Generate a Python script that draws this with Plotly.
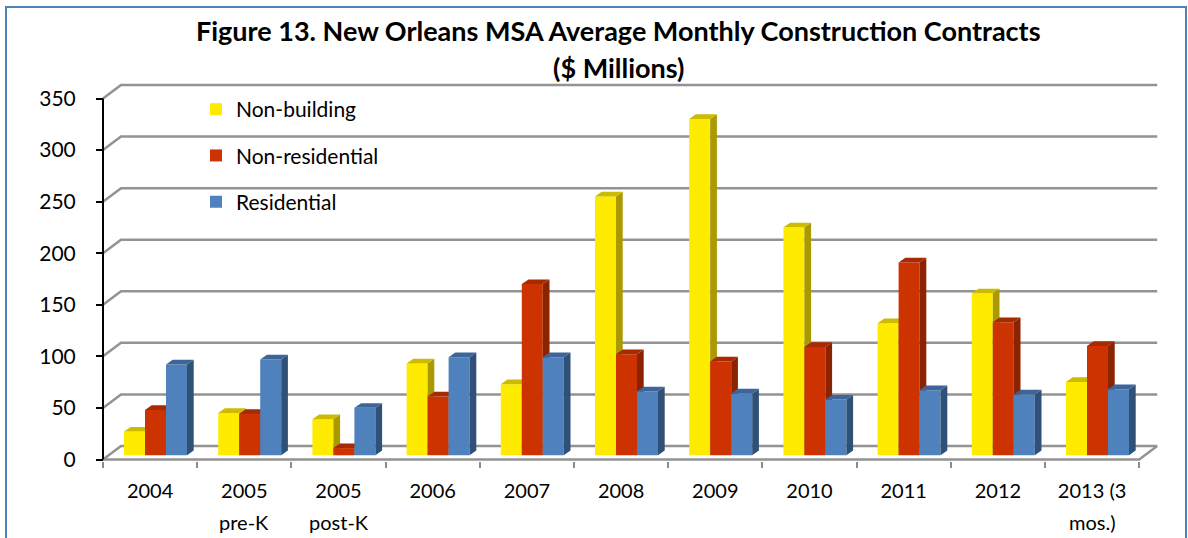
import plotly.graph_objects as go

# ---------------- data ----------------
categories = ["2004", "2005", "2005", "2006", "2007", "2008", "2009", "2010", "2011", "2012", "2013 (3"]
categories_line2 = ["", "pre-K", "post-K", "", "", "", "", "", "", "", "mos.)"]
non_building = [23, 41, 35, 89, 69, 251, 326, 221, 128, 157, 71]
non_residential = [44, 40, 7, 57, 166, 98, 91, 105, 187, 129, 106]
residential = [88, 93, 46, 95, 95, 62, 60, 54, 63, 59, 64]
y_ticks = [0, 50, 100, 150, 200, 250, 300, 350]
series_names = ["Non-building", "Non-residential", "Residential"]
title_line1 = "Figure 13. New Orleans MSA Average Monthly Construction Contracts"
title_line2 = "($ Millions)"

front_colors = ["#FFEB00", "#CC3300", "#4F81BD"]
top_colors = ["#CCBB00", "#A82A00", "#3E659A"]
side_colors = ["#AA9900", "#8B2200", "#2F5178"]

# ---------------- geometry (pixels) ----------------
W, H = 1188, 538
X0 = 103.0          # front-left corner of floor (px)
CW = 94.2           # category width (px)
Y0 = 459.5          # front zero line (px)
K = 361.0 / 350.0   # px per value unit
ML, MR, MT, MB = 95, 26, 80, 77
plot_w = W - ML - MR
plot_h = H - MT - MB
xmin = -0.5 - (X0 - ML) / CW
xmax = xmin + plot_w / CW
ymin = -((H - MB) - Y0) / K
ymax = ymin + plot_h / K


def paper_x(px):
    return (px - ML) / plot_w


def paper_y(py):
    return ((H - MB) - py) / plot_h


WDX, WDY = 18 / CW, 13.5 / K      # back-wall depth offset
BW = 21 / CW                      # bar width
SHIFT = 5.4 / CW                  # bar front-plane x offset
BASE = 4.2 / K                    # bar front-plane y offset
DDX, DDY = 6.7 / CW, 4.7 / K      # bar depth

n = len(categories)
left, right = -0.5, n - 0.5

fig = go.Figure()

# ---- back wall gridlines + floor (base subplot) ----
gx, gy = [], []
for v in y_ticks:
    gx += [left, left + WDX, right + WDX, None]
    gy += [v, v + WDY, v + WDY, None]
gx += [left, right, right + WDX, None]
gy += [0, 0, WDY, None]
fig.add_trace(go.Scatter(x=gx, y=gy, mode="lines", line=dict(color="#939393", width=2.5),
                         hoverinfo="skip", showlegend=False, xaxis="x", yaxis="y"))
fig.add_trace(go.Scatter(x=[left, left], y=[0, y_ticks[-1]], mode="lines",
                         line=dict(color="black", width=2), hoverinfo="skip",
                         showlegend=False, xaxis="x", yaxis="y"))

# ---- bars with 3D faces, one overlaid subplot per series ----
all_series = [non_building, non_residential, residential]
for k, vals in enumerate(all_series):
    ax = str(k + 2)
    xs = [i + SHIFT + (k - 1) * BW for i in range(n)]
    fig.add_trace(go.Bar(x=xs, y=vals, base=BASE, width=BW, name=series_names[k],
                         marker=dict(color=front_colors[k], line=dict(width=0)),
                         legendgroup=series_names[k], xaxis="x" + ax, yaxis="y" + ax))
    tx, ty, sx, sy = [], [], [], []
    for xc, v in zip(xs, vals):
        xl, xr = xc - BW / 2, xc + BW / 2
        t = BASE + v
        tx += [xl, xr, xr + DDX, xl + DDX, xl, None]
        ty += [t, t, t + DDY, t + DDY, t, None]
        sx += [xr, xr, xr + DDX, xr + DDX, xr, None]
        sy += [BASE, t, t + DDY, BASE + DDY, BASE, None]
    fig.add_trace(go.Scatter(x=sx, y=sy, mode="lines", fill="toself", fillcolor=side_colors[k],
                             line=dict(width=0, color=side_colors[k]), hoverinfo="skip",
                             showlegend=False, legendgroup=series_names[k],
                             xaxis="x" + ax, yaxis="y" + ax))
    fig.add_trace(go.Scatter(x=tx, y=ty, mode="lines", fill="toself", fillcolor=top_colors[k],
                             line=dict(width=0, color=top_colors[k]), hoverinfo="skip",
                             showlegend=False, legendgroup=series_names[k],
                             xaxis="x" + ax, yaxis="y" + ax))

font_family = "Lato"
layout = dict(
    width=W, height=H,
    margin=dict(l=ML, r=MR, t=MT, b=MB, pad=0),
    paper_bgcolor="white", plot_bgcolor="white",
    barmode="overlay",
    showlegend=True,
    legend=dict(x=paper_x(196), y=paper_y(89), xanchor="left", yanchor="top",
                font=dict(family=font_family, size=21, color="black"),
                bgcolor="rgba(0,0,0,0)", tracegroupgap=16, traceorder="grouped"),
    xaxis=dict(range=[xmin, xmax], tickmode="array", tickvals=list(range(n)), ticktext=categories,
               ticks="", showgrid=False, zeroline=False, showline=False,
               tickfont=dict(family=font_family, size=20, color="black"),
               ticklabelstandoff=16,
               minor=dict(tickmode="array", tickvals=[i - 0.5 for i in range(n + 1)],
                          ticks="outside", ticklen=6, tickwidth=1.5, tickcolor="#8c8c8c",
                          showgrid=False)),
    yaxis=dict(range=[ymin, ymax], tickmode="array", tickvals=y_ticks, ticks="outside",
               ticklen=7, tickwidth=2, tickcolor="black", anchor="free", position=paper_x(X0),
               showgrid=False, zeroline=False, showline=False,
               tickfont=dict(family=font_family, size=21, color="black"), ticklabelstandoff=16),
    font=dict(family=font_family, color="black"),
    annotations=[
        dict(text="<b>" + title_line1 + "</b>", x=paper_x(618.5), y=paper_y(31), xref="paper",
             yref="paper", xanchor="center", yanchor="middle", showarrow=False,
             font=dict(family=font_family, size=27, color="black")),
        dict(text="<b>" + title_line2 + "</b>", x=paper_x(618.5), y=paper_y(67), xref="paper",
             yref="paper", xanchor="center", yanchor="middle", showarrow=False,
             font=dict(family=font_family, size=27, color="black")),
    ],
    shapes=[dict(type="rect", xref="paper", yref="paper", x0=paper_x(6), x1=paper_x(1186),
                 y0=paper_y(600), y1=paper_y(7), line=dict(color="#4F81BD", width=2),
                 fillcolor="rgba(0,0,0,0)", layer="below")],
)
for k in range(3):
    ax = str(k + 2)
    layout["xaxis" + ax] = dict(range=[xmin, xmax], overlaying="x", visible=False)
    layout["yaxis" + ax] = dict(range=[ymin, ymax], overlaying="y", visible=False)

for i, lab in enumerate(categories_line2):
    if lab:
        layout["annotations"].append(dict(text=lab, x=i, y=paper_y(522), xref="x", yref="paper",
                                          xanchor="center", yanchor="middle", showarrow=False,
                                          font=dict(family=font_family, size=20, color="black")))

fig.update_layout(**layout)
fig.write_html("out.html", config={"displayModeBar": False},
               post_script="document.body.style.margin='0';document.body.style.overflow='hidden';")
